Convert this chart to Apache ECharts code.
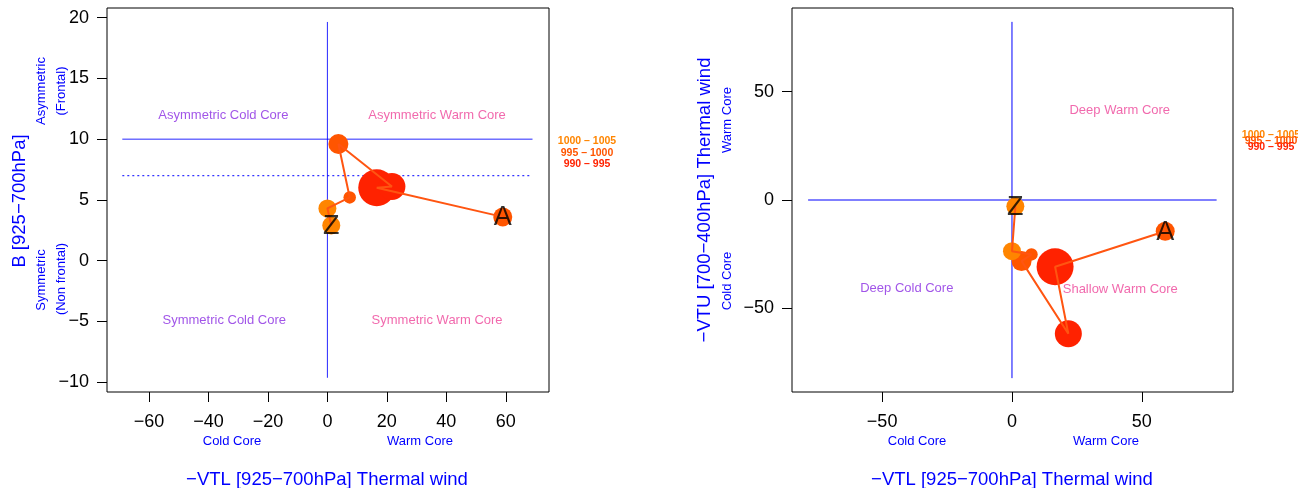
<!DOCTYPE html>
<html>
<head>
<meta charset="utf-8">
<script src="https://cdn.jsdelivr.net/npm/echarts@6/dist/echarts.min.js"></script>
<style>
html,body{margin:0;padding:0;background:#fff;}
#c{width:1298px;height:488px;}
</style>
</head>
<body>
<div id="c"></div>
<script>
// ---- Data ----
const pointLabels = ['A', '', '', '', '', '', 'Z'];
const vtlValues = [59.0, 16.6, 21.7, 3.7, 7.5, 0.0, 1.3];       // -VTL (both panels)
const bValues = [3.6, 6.0, 6.1, 9.6, 5.2, 4.3, 2.9];            // B
const vtuValues = [-14.4, -30.8, -61.7, -28.2, -25.1, -23.6, -2.9]; // -VTU
const pressureBandIdx = [1, 0, 0, 1, 1, 2, 2];
const sizeValue = [19, 37, 27, 20, 12.5, 18, 18];
const bandLabels = ['1000 \u2013 1005', '995 \u2013 1000', '990 \u2013 995'];
const bandOrder = [2, 1, 0];
const bandColors = ['#FF2200', '#FF5500', '#FF8500'];

const leftXTicks = [-60, -40, -20, 0, 20, 40, 60];
const leftYTicks = [-10, -5, 0, 5, 10, 15, 20];
const rightXTicks = [-50, 0, 50];
const rightYTicks = [-50, 0, 50];

// reference lines (data units)
const leftHLine = [[-69, 10], [69, 10]];
const leftDotLine = [[-69, 7], [68, 7]];
const leftVLine = [[0, -9.65], [0, 19.65]];
const rightHLine = [[-78.5, 0], [78.8, 0]];
const rightVLine = [[0, -82.2], [0, 82.2]];

const leftQuadLabels = [
  ['Asymmetric Cold Core', -35, 11.95, 'cold'],
  ['Asymmetric Warm Core', 36.9, 11.95, 'warm'],
  ['Symmetric Cold Core', -34.7, -4.95, 'cold'],
  ['Symmetric Warm Core', 36.9, -4.95, 'warm']
];
const rightQuadLabels = [
  ['Deep Warm Core', 41.5, 41.2, 'warm'],
  ['Deep Cold Core', -40.5, -40.9, 'cold'],
  ['Shallow Warm Core', 41.7, -41.4, 'warm']
];

// ---- Styles ----
const FONT = 'Liberation Sans, Arial, Helvetica, sans-serif';
const BLUE = '#0000FF';
const COLD = '#8A2BE2';
const WARM = '#EE4499';
const TRACK = '#FF5511';

const fmt = v => v < 0 ? '\u2212' + Math.abs(v) : String(v);

function axis(idx, min, max, ticks, isY) {
  return {
    type: 'value', gridIndex: idx, min: min, max: max,
    splitLine: {show: false},
    axisLine: {show: false, onZero: false},
    axisTick: {show: true, inside: false, customValues: ticks, length: 10, lineStyle: {color: '#000', width: 1}},
    axisLabel: {show: true, customValues: ticks, formatter: fmt, color: '#000',
      fontFamily: FONT, fontSize: 18, margin: isY ? 18 : 21}
  };
}

const pts = (xs, ys) => xs.map((x, i) => [x, ys[i]]);

function panelSeries(idx, ys, refLines, quad) {
  const s = [];
  refLines.forEach(r => s.push({
    type: 'line', xAxisIndex: idx, yAxisIndex: idx, data: r.data, symbol: 'none',
    silent: true, z: 1, lineStyle: {color: r.c || BLUE, width: r.w || 1, type: r.type || 'solid', opacity: r.op || 0.85}
  }));
  s.push({
    type: 'scatter', xAxisIndex: idx, yAxisIndex: idx, silent: true, z: 2,
    data: pts(vtlValues, ys).map((p, i) => ({
      value: p, symbolSize: sizeValue[i],
      itemStyle: {color: bandColors[pressureBandIdx[i]], opacity: 1}
    }))
  });
  s.push({
    type: 'line', xAxisIndex: idx, yAxisIndex: idx, data: pts(vtlValues, ys),
    symbol: 'none', silent: true, z: 3, lineStyle: {color: TRACK, width: 2}
  });
  s.push({
    type: 'scatter', xAxisIndex: idx, yAxisIndex: idx, silent: true, z: 4,
    symbolSize: 0,
    data: pts(vtlValues, ys).map((p, i) => ({value: p, name: pointLabels[i]})),
    label: {show: true, position: 'inside', formatter: p => p.name,
      fontFamily: FONT, fontSize: 27, color: '#000', offset: [0, 1]}
  });
  s.push({
    type: 'scatter', xAxisIndex: idx, yAxisIndex: idx, silent: true, z: 4,
    symbolSize: 0,
    data: quad.map(q => ({value: [q[1], q[2]], name: q[0],
      label: {color: q[3] === 'warm' ? WARM : COLD}})),
    label: {show: true, position: 'inside', formatter: p => p.name,
      fontFamily: FONT, fontSize: 13}
  });
  return s;
}

const chart = echarts.init(document.getElementById('c'), null, {renderer: 'canvas'});

const txt = (text, x, y, size, color, rot, weight) => ({
  type: 'text', x: x, y: y, rotation: rot || 0, silent: true,
  style: {text: text, fill: color, font: (weight || 'normal') + ' ' + size + 'px ' + FONT,
    textAlign: 'center', textVerticalAlign: 'middle'}
});

const graphics = [
  txt('\u2212VTL [925\u2212700hPa] Thermal wind', 327, 480, 18.5, BLUE),
  txt('\u2212VTL [925\u2212700hPa] Thermal wind', 1012, 480, 18.5, BLUE),
  txt('B [925\u2212700hPa]', 20, 201, 18.5, BLUE, Math.PI / 2),
  txt('\u2212VTU [700\u2212400hPa] Thermal wind', 705, 200, 18.5, BLUE, Math.PI / 2),
  txt('Cold Core', 232, 441, 13, BLUE),
  txt('Warm Core', 420, 441, 13, BLUE),
  txt('Cold Core', 917, 441, 13, BLUE),
  txt('Warm Core', 1106, 441, 13, BLUE),
  txt('Asymmetric', 41, 91, 13, BLUE, Math.PI / 2),
  txt('(Frontal)', 61, 91, 13, BLUE, Math.PI / 2),
  txt('Symmetric', 41, 280, 13, BLUE, Math.PI / 2),
  txt('(Non frontal)', 61, 279, 13, BLUE, Math.PI / 2),
  txt('Warm Core', 727, 120, 13, BLUE, Math.PI / 2),
  txt('Cold Core', 727, 281, 13, BLUE, Math.PI / 2)
];
bandOrder.forEach((b, k) => {
  graphics.push(txt(bandLabels[k], 587, 141 + k * 11.8, 10.5, bandColors[b], 0, 'bold'));
  graphics.push(txt(bandLabels[k], 1271, 135.5 + k * 5.8, 10.5, bandColors[b], 0, 'bold'));
});

chart.setOption({
  animation: false,
  backgroundColor: '#fff',
  grid: [
    {left: 107, top: 8, width: 442, height: 384, show: true, borderColor: '#000', borderWidth: 1, backgroundColor: 'transparent'},
    {left: 792, top: 8, width: 441, height: 384, show: true, borderColor: '#000', borderWidth: 1, backgroundColor: 'transparent'}
  ],
  xAxis: [
    axis(0, -74.15, 74.55, leftXTicks, false),
    axis(1, -84.7, 85.1, rightXTicks, false)
  ],
  yAxis: [
    axis(0, -10.82, 20.8, leftYTicks, true),
    axis(1, -88.6, 88.6, rightYTicks, true)
  ],
  series: [].concat(
    panelSeries(0, bValues, [
      {data: leftHLine}, {data: leftDotLine, type: [2, 3], w: 1.3, op: 1, c: '#3333FF'}, {data: leftVLine}
    ], leftQuadLabels),
    panelSeries(1, vtuValues, [
      {data: rightHLine, op: 1}, {data: rightVLine, op: 1}
    ], rightQuadLabels)
  ),
  graphic: graphics
});
</script>
</body>
</html>
